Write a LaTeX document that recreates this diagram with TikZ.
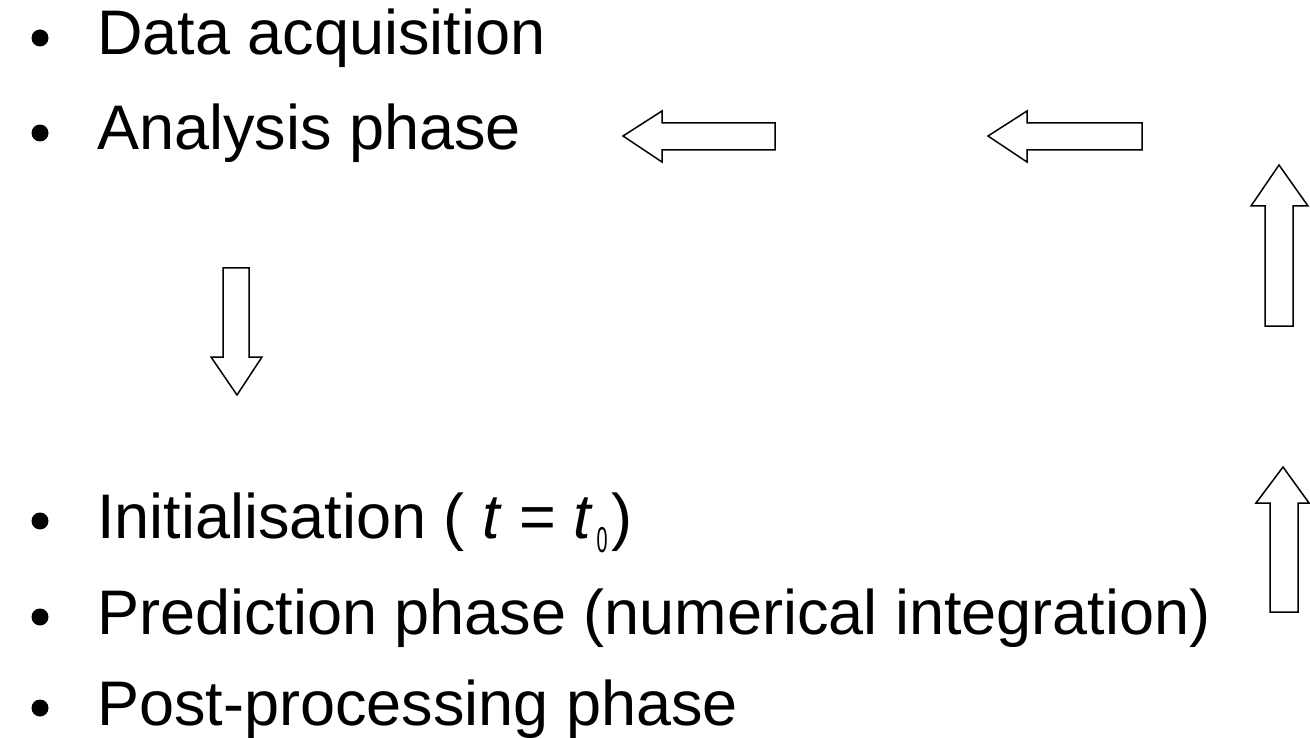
\documentclass[tikz,border=0pt]{standalone}
\usepackage{fontspec}
\setmainfont{Liberation Sans}
\tikzset{
  itemtext/.style={anchor=base west, inner sep=0pt, font=\fontsize{63}{75}\selectfont},
  bulletdot/.style={fill=black, circle, inner sep=0pt, minimum size=17pt},
  fatarrow/.style={draw=black, line width=1.5pt, line join=miter, fill=white}
}
\begin{document}
\begin{tikzpicture}[x=1pt,y=-1pt]
\useasboundingbox (0,0) rectangle (1310,738);
% bullets
\node[bulletdot] (b1) at (40,38) {};
\node[bulletdot] (b2) at (40,133) {};
\node[bulletdot] (b3) at (40,521) {};
\node[bulletdot] (b4) at (40,617) {};
\node[bulletdot] (b5) at (40,708) {};
% texts
\node[itemtext] (t1) at (97,55) {Data acquisition};
\node[itemtext] (t2) at (97,150) {Analysis phase};
\node[itemtext] (t3) at (97,538) {Initialisation ( \textit{t} = \textit{t}\kern3pt\raisebox{-14pt}{\fontsize{36}{36}\selectfont\scalebox{0.55}[1]{0}}\kern4pt)};
\node[itemtext] (t4) at (97,634) {Prediction phase (numerical integration)};
\node[itemtext] (t5) at (97,725) {Post-processing phase};
% left arrows
\draw[fatarrow] (623,136) -- (662,111) -- (662,123) -- (775,123) -- (775,150) -- (662,150) -- (662,162) -- cycle;
\draw[fatarrow] (988,136) -- (1027,111) -- (1027,123) -- (1142,123) -- (1142,150) -- (1027,150) -- (1027,162) -- cycle;
% up arrows
\draw[fatarrow] (1279,165) -- (1308,206) -- (1293,206) -- (1293,326) -- (1265,326) -- (1265,206) -- (1251,206) -- cycle;
\draw[fatarrow] (1283,467) -- (1309,503) -- (1298,503) -- (1298,612) -- (1270,612) -- (1270,503) -- (1256,503) -- cycle;
% down arrow
\draw[fatarrow] (237,395) -- (211,357) -- (223,357) -- (223,268) -- (249,268) -- (249,357) -- (262,357) -- cycle;
\end{tikzpicture}
\end{document}
